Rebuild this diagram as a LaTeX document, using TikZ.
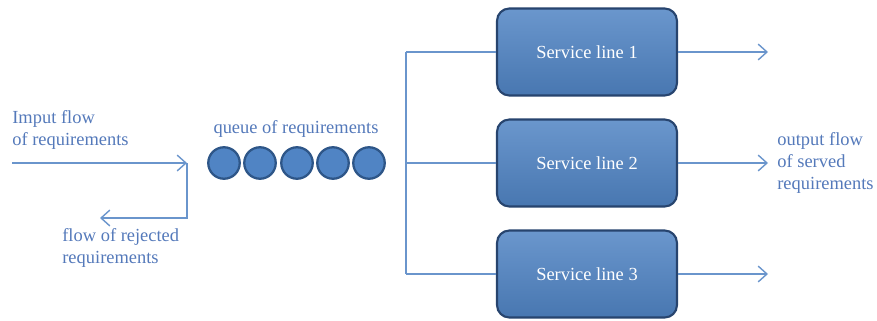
\documentclass[tikz,border=0pt]{standalone}
\usepackage{fontspec}
\setmainfont{Liberation Serif}
\usetikzlibrary{arrows.meta}

\definecolor{flowline}{HTML}{6A95CC}
\definecolor{flowtext}{HTML}{5479BA}
\definecolor{boxfill}{HTML}{5084C4}
\definecolor{boxedge}{HTML}{27446E}
\definecolor{dotedge}{HTML}{2E5688}

\begin{document}
\begin{tikzpicture}
  [x=0.02cm,y=-0.02cm,
   flow/.style={draw=flowline,line width=0.8pt},
   arr/.style={flow,-{Straight Barb[length=5pt,width=9pt,line width=0.8pt]}},
   label/.style={text=flowtext,font=\fontsize{10.5}{12.5}\selectfont,align=left,inner sep=0pt},
   dot/.style={circle,fill=boxfill,draw=dotedge,line width=1.3pt,minimum size=0.63cm,inner sep=0pt},
   service/.style={rectangle,rounded corners=7pt,top color=boxfill!85!white,bottom color=boxfill!90!black,
     draw=boxedge,line width=1.2pt,minimum width=3.6cm,minimum height=1.74cm,
     text=white,font=\fontsize{10.5}{12.5}\selectfont}]
  \useasboundingbox (0,0) rectangle (877,321);

  % labels
  \node[label,anchor=west] (inlbl) at (12,130) {Imput flow\\of requirements};
  \node[label,anchor=west] (rejlbl) at (62,248) {flow of rejected\\requirements};
  \node[label] (qlbl) at (296,129) {queue of requirements};
  \node[label,anchor=west] (outlbl) at (777,163) {output flow\\of served\\requirements};

  % queue
  \node[dot] (q1) at (224,163) {};
  \node[dot] (q2) at (260,163) {};
  \node[dot] (q3) at (297,163) {};
  \node[dot] (q4) at (333,163) {};
  \node[dot] (q5) at (369,163) {};

  % service lines
  \node[service] (s1) at (587,52) {Service line 1};
  \node[service] (s2) at (587,163) {Service line 2};
  \node[service] (s3) at (587,274) {Service line 3};

  \coordinate (in) at (12,163);
  \coordinate (gate) at (187,163);
  \coordinate (gateb) at (187,218);
  \coordinate (rej) at (100,218);
  \coordinate (f1) at (406,52);
  \coordinate (f2) at (406,163);
  \coordinate (f3) at (406,274);
  \coordinate (o1) at (768,52);
  \coordinate (o2) at (768,163);
  \coordinate (o3) at (768,274);

  \draw[arr] (in) -- (gate);
  \draw[arr] (gate) -- (gateb) -- (rej);

  \draw[flow] (f1) -- (f3);
  \draw[flow] (f1) -- (s1);
  \draw[flow] (f2) -- (s2);
  \draw[flow] (f3) -- (s3);

  \draw[arr] (s1) -- (o1);
  \draw[arr] (s2) -- (o2);
  \draw[arr] (s3) -- (o3);

\end{tikzpicture}
\end{document}
